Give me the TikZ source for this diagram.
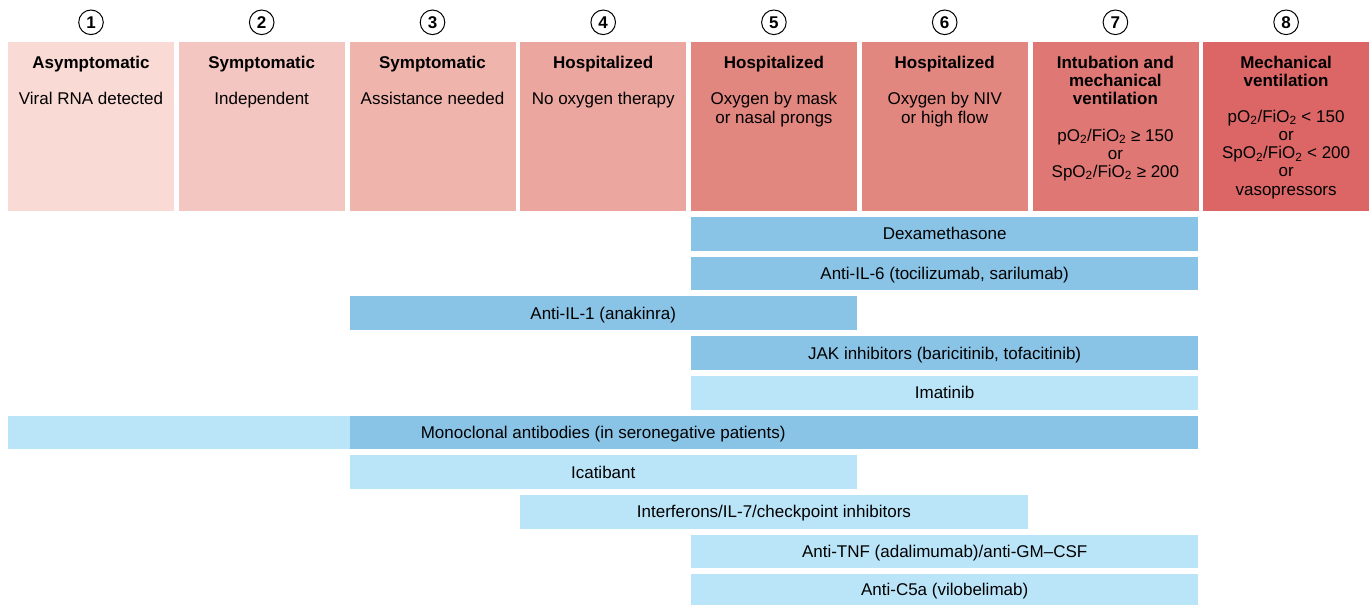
\documentclass[tikz,border=0pt]{standalone}
\usepackage{fontspec}
\setmainfont{Liberation Sans}
\definecolor{c1}{RGB}{249,218,213}
\definecolor{c2}{RGB}{244,198,193}
\definecolor{c3}{RGB}{239,181,173}
\definecolor{c4}{RGB}{234,166,159}
\definecolor{c5}{RGB}{226,134,128}
\definecolor{c6}{RGB}{226,134,128}
\definecolor{c7}{RGB}{223,119,116}
\definecolor{c8}{RGB}{220,102,102}
\definecolor{dblue}{RGB}{137,196,231}
\definecolor{lblue}{RGB}{186,229,249}
\tikzset{
  hdr/.style={rectangle, inner sep=0pt, draw=none, minimum width=166pt, minimum height=168.7pt, anchor=north west},
  ttl/.style={anchor=base, inner sep=0pt, font=\fontsize{17}{18}\selectfont\bfseries},
  sub/.style={anchor=base, inner sep=0pt, font=\fontsize{17}{18}\selectfont},
  num/.style={circle, draw, line width=1pt, minimum size=24.6pt, inner sep=0pt, font=\fontsize{17}{18}\selectfont\bfseries, text height=12.2pt, text depth=0pt},
  bar/.style={rectangle, inner sep=0pt, draw=none, minimum height=33.7pt, text height=12.2pt, text depth=0pt, font=\fontsize{17}{18}\selectfont, anchor=center}
}
\newcommand{\two}{\textsubscript{2}}
\begin{document}
\begin{tikzpicture}[x=1pt,y=-1pt]
\useasboundingbox (0,0) rectangle (1372,605);
% header boxes
\node[hdr, fill=c1] (h1) at (8,42) {};
\node[hdr, fill=c2] (h2) at (178.7,42) {};
\node[hdr, fill=c3] (h3) at (349.5,42) {};
\node[hdr, fill=c4] (h4) at (520.2,42) {};
\node[hdr, fill=c5] (h5) at (690.9,42) {};
\node[hdr, fill=c6] (h6) at (861.7,42) {};
\node[hdr, fill=c7] (h7) at (1032.4,42) {};
\node[hdr, fill=c8] (h8) at (1203.1,42) {};
% numbers
\node[num] (n1) at (91,22.3) {1};
\node[num] (n2) at (261.7,22.3) {2};
\node[num] (n3) at (432.5,22.3) {3};
\node[num] (n4) at (603.2,22.3) {4};
\node[num] (n5) at (773.9,22.3) {5};
\node[num] (n6) at (944.7,22.3) {6};
\node[num] (n7) at (1115.4,22.3) {7};
\node[num] (n8) at (1286.1,22.3) {8};
% header texts
\node[ttl] (t1) at (91,68) {Asymptomatic};
\node[sub] (s1) at (91,104.3) {Viral RNA detected};
\node[ttl] (t2) at (261.7,68) {Symptomatic};
\node[sub] (s2) at (261.7,104.3) {Independent};
\node[ttl] (t3) at (432.5,68) {Symptomatic};
\node[sub] (s3) at (432.5,104.3) {Assistance needed};
\node[ttl] (t4) at (603.2,68) {Hospitalized};
\node[sub] (s4) at (603.2,104.3) {No oxygen therapy};
\node[ttl] (t5) at (773.9,68) {Hospitalized};
\node[sub] (s5a) at (773.9,104) {Oxygen by mask};
\node[sub] (s5b) at (773.9,123.3) {or nasal prongs};
\node[ttl] (t6) at (944.7,68) {Hospitalized};
\node[sub] (s6a) at (944.7,104) {Oxygen by NIV};
\node[sub] (s6b) at (944.7,123.3) {or high flow};
\node[ttl] (t7a) at (1115.4,68) {Intubation and};
\node[ttl] (t7b) at (1115.4,86) {mechanical};
\node[ttl] (t7c) at (1115.4,104.3) {ventilation};
\node[sub] (s7a) at (1115.4,141) {pO\two/FiO\two{} ≥ 150};
\node[sub] (s7b) at (1115.4,159.3) {or};
\node[sub] (s7c) at (1115.4,177) {SpO\two/FiO\two{} ≥ 200};
\node[ttl] (t8a) at (1286.1,68) {Mechanical};
\node[ttl] (t8b) at (1286.1,86) {ventilation};
\node[sub] (s8a) at (1286.1,122) {pO\two/FiO\two{} < 150};
\node[sub] (s8b) at (1286.1,140) {or};
\node[sub] (s8c) at (1286.1,158.5) {SpO\two/FiO\two{} < 200};
\node[sub] (s8d) at (1286.1,176.7) {or};
\node[sub] (s8e) at (1286.1,195) {vasopressors};
% treatment bars
\node[bar, fill=dblue, minimum width=507.5pt] (b1) at (944.65,233.85) {Dexamethasone};
\node[bar, fill=dblue, minimum width=507.5pt] (b2) at (944.65,273.55) {Anti-IL-6 (tocilizumab, sarilumab)};
\node[bar, fill=dblue, minimum width=507.4pt] (b3) at (603.2,313.25) {Anti-IL-1 (anakinra)};
\node[bar, fill=dblue, minimum width=507.5pt] (b4) at (944.65,352.95) {JAK inhibitors (baricitinib, tofacitinib)};
\node[bar, fill=lblue, minimum width=507.5pt] (b5) at (944.65,392.65) {Imatinib};
\fill[lblue] (8,415.5) rectangle (349.5,449.2);
\fill[dblue] (349.5,415.5) rectangle (1198.4,449.2);
\node[bar, minimum width=1190.4pt] (b6) at (603.2,432.35) {Monoclonal antibodies (in seronegative patients)};
\node[bar, fill=lblue, minimum width=507.4pt] (b7) at (603.2,472.05) {Icatibant};
\node[bar, fill=lblue, minimum width=507.5pt] (b8) at (773.95,511.75) {Interferons/IL-7/checkpoint inhibitors};
\node[bar, fill=lblue, minimum width=507.5pt] (b9) at (944.65,551.45) {Anti-TNF (adalimumab)/anti-GM--CSF};
\node[bar, fill=lblue, minimum width=507.5pt, minimum height=30.7pt] (b10) at (944.65,589.65) {Anti-C5a (vilobelimab)};
\end{tikzpicture}
\end{document}
